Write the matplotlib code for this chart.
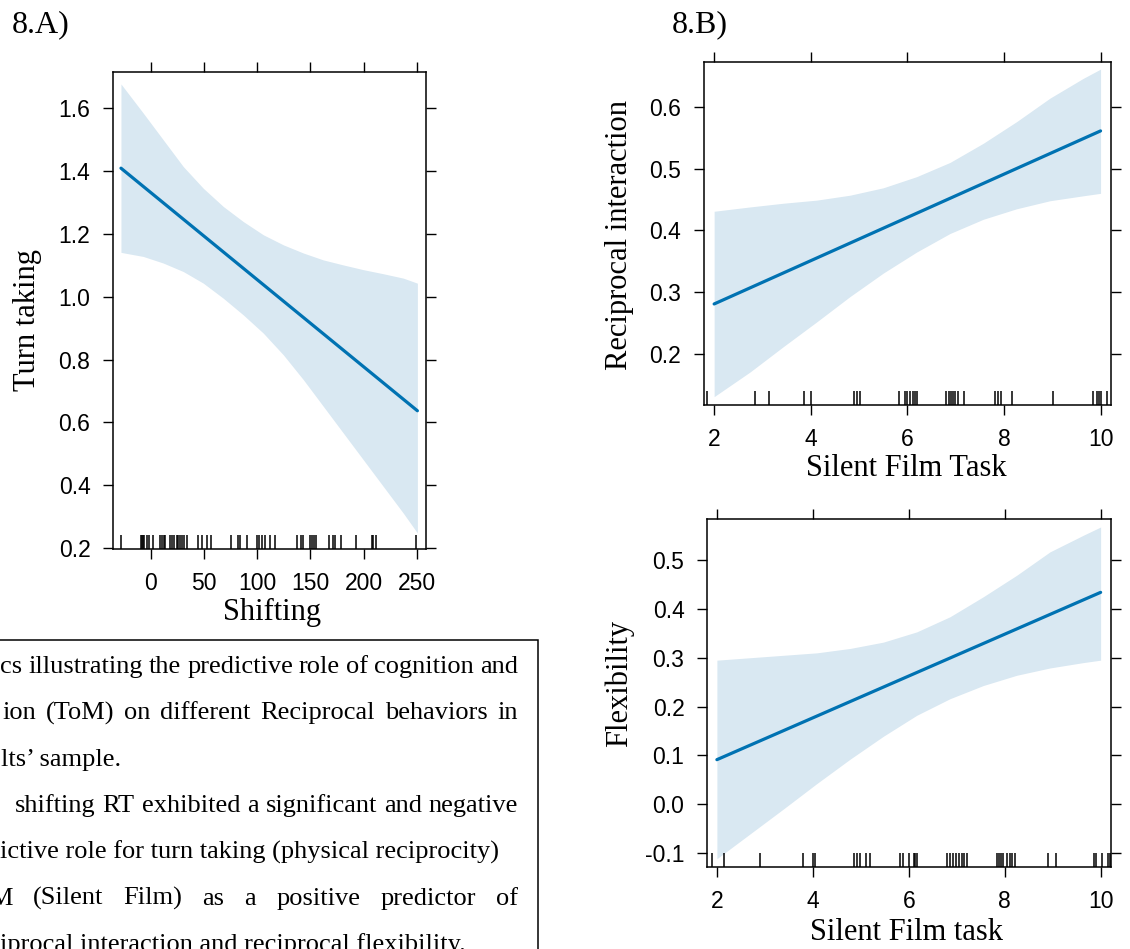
import numpy as np
import matplotlib
matplotlib.use("Agg")
import matplotlib.pyplot as plt
from matplotlib.patches import Rectangle
from matplotlib.ticker import FormatStrFormatter

plt.rcParams["axes.unicode_minus"] = False

W, H = 1130, 949

# ---- 8.A) Turn taking ~ Shifting ----
shift_x = [-28.0, -7.0, 11.8, 30.6, 49.4, 68.2, 87.0, 105.8, 124.6, 143.4,
           162.2, 181.0, 199.8, 218.6, 237.4, 250.6]
turn_upper = [1.677, 1.584, 1.499, 1.414, 1.345, 1.287, 1.239, 1.197, 1.165,
              1.139, 1.117, 1.101, 1.086, 1.073, 1.059, 1.043]
turn_lower = [1.141, 1.128, 1.107, 1.080, 1.043, 0.995, 0.942, 0.884, 0.815,
              0.736, 0.651, 0.566, 0.481, 0.396, 0.311, 0.248]
turn_fit_x = [-28.0, 250.6]
turn_fit = [1.409, 0.637]
shift_rug = [-27.9, -9.4, -8.2, -7.0, -6.0, -3.8, -1.3, 1.9, 8.7, 10.6, 12.0,
             13.4, 18.1, 20.0, 21.9, 24.4, 25.9, 27.5, 29.4, 31.3, 34.4, 44.2,
             47.9, 52.6, 56.4, 75.2, 81.8, 83.9, 90.2, 100.2, 102.1, 104.3,
             107.4, 112.1, 116.8, 137.8, 141.0, 143.4, 149.7, 151.6, 153.5,
             155.4, 167.9, 171.1, 173.2, 178.6, 193.0, 207.7, 209.2, 211.7,
             249.3]

# ---- 8.B) Reciprocal interaction ~ Silent Film Task ----
film_x = [2.0, 2.745, 3.434, 4.124, 4.814, 5.503, 6.193, 6.883, 7.572, 8.262,
          8.952, 9.641, 10.0]
recip_upper = [0.431, 0.438, 0.444, 0.449, 0.457, 0.469, 0.487, 0.510, 0.541,
               0.576, 0.614, 0.646, 0.661]
recip_lower = [0.131, 0.171, 0.212, 0.252, 0.293, 0.331, 0.365, 0.395, 0.418,
               0.435, 0.448, 0.456, 0.460]
recip_fit_x = [2.0, 10.0]
recip_fit = [0.281, 0.561]
film_rug = [1.86, 2.85, 3.14, 3.85, 4.0, 4.89, 4.95, 5.03, 5.82, 5.96, 6.0,
            6.05, 6.12, 6.15, 6.19, 6.81, 6.86, 6.90, 6.94, 6.98, 7.04, 7.17,
            7.81, 7.87, 7.94, 8.16, 9.02, 9.84, 9.92, 9.96, 10.01, 10.13]

# ---- Flexibility ~ Silent Film task ----
film_x2 = [2.0, 2.694, 3.388, 4.083, 4.777, 5.471, 6.167, 6.86, 7.554, 8.25,
           8.944, 9.638, 10.0]
flex_upper = [0.295, 0.300, 0.305, 0.310, 0.319, 0.332, 0.353, 0.384, 0.425,
              0.469, 0.517, 0.551, 0.568]
flex_lower = [-0.112, -0.061, -0.010, 0.042, 0.092, 0.139, 0.182, 0.216,
              0.243, 0.264, 0.279, 0.290, 0.295]
flex_fit_x = [2.0, 10.0]
flex_fit = [0.091, 0.434]
film_rug2 = [1.90, 2.14, 2.89, 3.80, 4.01, 4.05, 4.86, 4.92, 4.98, 5.10, 5.19,
             5.82, 5.87, 6.01, 6.10, 6.13, 6.17, 6.80, 6.86, 6.92, 6.98, 7.05,
             7.11, 7.15, 7.21, 7.83, 7.88, 7.92, 7.97, 8.05, 8.11, 8.16, 8.21,
             8.91, 9.07, 9.86, 9.90, 10.02, 10.16, 10.19]

note_lines = [
    "cs illustrating the predictive role of cognition and",
    "ion (ToM) on different Reciprocal behaviors in",
    "lts\u2019 sample.",
    "shifting RT exhibited a significant and negative",
    "ictive role for turn taking (physical reciprocity)",
    "M (Silent Film) as a positive predictor of",
    "iprocal interaction and reciprocal flexibility.",
]
note_justified = [True, True, False, True, False, True, False]

BAND = "#d9e8f2"
LINE = "#0072b2"
SANS = "Liberation Sans"
SERIF = "Liberation Serif"
TICK_FS = 16.5
LAB_FS = 22


def px_box(left, top, right, bottom):
    return [left / W, 1 - bottom / H, (right - left) / W, (bottom - top) / H]


def panel(rect, xs, up, lo, fx, fy, rug, xlim, ylim, xticks, yticks, rug_px):
    ax = fig.add_axes(px_box(*rect))
    ax.fill_between(xs, lo, up, color=BAND, lw=0)
    ax.plot(fx, fy, color=LINE, lw=2.3, solid_capstyle="round")
    rug_h = rug_px / (rect[3] - rect[1])
    ax.vlines(rug, 0, rug_h, color="black", lw=1.1,
              transform=ax.get_xaxis_transform())
    ax.set_xlim(*xlim)
    ax.set_ylim(*ylim)
    ax.set_xticks(xticks)
    ax.set_yticks(yticks)
    ax.yaxis.set_major_formatter(FormatStrFormatter("%.1f"))
    ax.tick_params(direction="out", length=7.5, width=1.0, top=True,
                   right=True, labeltop=False, labelright=False,
                   labelsize=TICK_FS, pad=9)
    for lab in ax.get_xticklabels() + ax.get_yticklabels():
        lab.set_fontfamily(SANS)
    for s in ax.spines.values():
        s.set_linewidth(1.1)
    return ax


fig = plt.figure(figsize=(W / 100, H / 100), dpi=100)

panel((113.3, 71.7, 426, 548.7), shift_x, turn_upper, turn_lower,
      turn_fit_x, turn_fit, shift_rug, (-35.2, 258.7), (0.198, 1.716),
      [0, 50, 100, 150, 200, 250], [0.2, 0.4, 0.6, 0.8, 1.0, 1.2, 1.4, 1.6],
      14)
panel((704, 61.7, 1110.7, 405), film_x, recip_upper, recip_lower,
      recip_fit_x, recip_fit, film_rug, (1.79, 10.21), (0.1175, 0.673),
      [2, 4, 6, 8, 10], [0.2, 0.3, 0.4, 0.5, 0.6], 14)
panel((707.3, 518.7, 1110.7, 867), film_x2, flex_upper, flex_lower,
      flex_fit_x, flex_fit, film_rug2, (1.80, 10.21), (-0.129, 0.585),
      [2, 4, 6, 8, 10], [-0.1, 0.0, 0.1, 0.2, 0.3, 0.4, 0.5], 14)


def ftext(x, y, s, **kw):
    fig.text(x / W, 1 - y / H, s, family=SERIF, **kw)


ftext(12, 25, "8.A)", fontsize=23, ha="left", va="center")
ftext(672, 25, "8.B)", fontsize=23, ha="left", va="center")
ftext(28, 320, "Turn taking", fontsize=LAB_FS, rotation=90, ha="center", va="center")
ftext(272, 612, "Shifting", fontsize=LAB_FS, ha="center", va="center")
ftext(619, 235, "Reciprocal interaction", fontsize=LAB_FS, rotation=90, ha="center", va="center")
ftext(906, 468, "Silent Film Task", fontsize=LAB_FS, ha="center", va="center")
ftext(619, 683, "Flexibility", fontsize=LAB_FS, rotation=90, ha="center", va="center")
ftext(906, 933, "Silent Film task", fontsize=LAB_FS, ha="center", va="center")

# note box, running off the left and bottom edges of the figure (as in the source)
fig.add_artist(Rectangle((-5 / W, -5 / H), 543 / W, 314 / H, fill=False,
                         lw=1.1, ec="black", transform=fig.transFigure))

NOTE_FS = 19.0
note_left = [0, 2, 1, 15, 0, -11, 0]
note_right = 518
note_base0, note_step = 673, 46.4
r = fig.canvas.get_renderer()
for i, (line, just) in enumerate(zip(note_lines, note_justified)):
    yb = note_base0 + i * note_step
    if not just:
        ftext(note_left[i], yb, line, fontsize=NOTE_FS, ha="left", va="baseline")
        continue
    words = line.split(" ")
    widths = []
    for w in words:
        t = fig.text(0, 0, w, family=SERIF, fontsize=NOTE_FS)
        widths.append(t.get_window_extent(r).width)
        t.remove()
    gap = (note_right - note_left[i] - sum(widths)) / (len(words) - 1)
    x = note_left[i]
    for w, wd in zip(words, widths):
        ftext(x, yb, w, fontsize=NOTE_FS, ha="left", va="baseline")
        x += wd + gap

fig.savefig("out.png", dpi=100)
